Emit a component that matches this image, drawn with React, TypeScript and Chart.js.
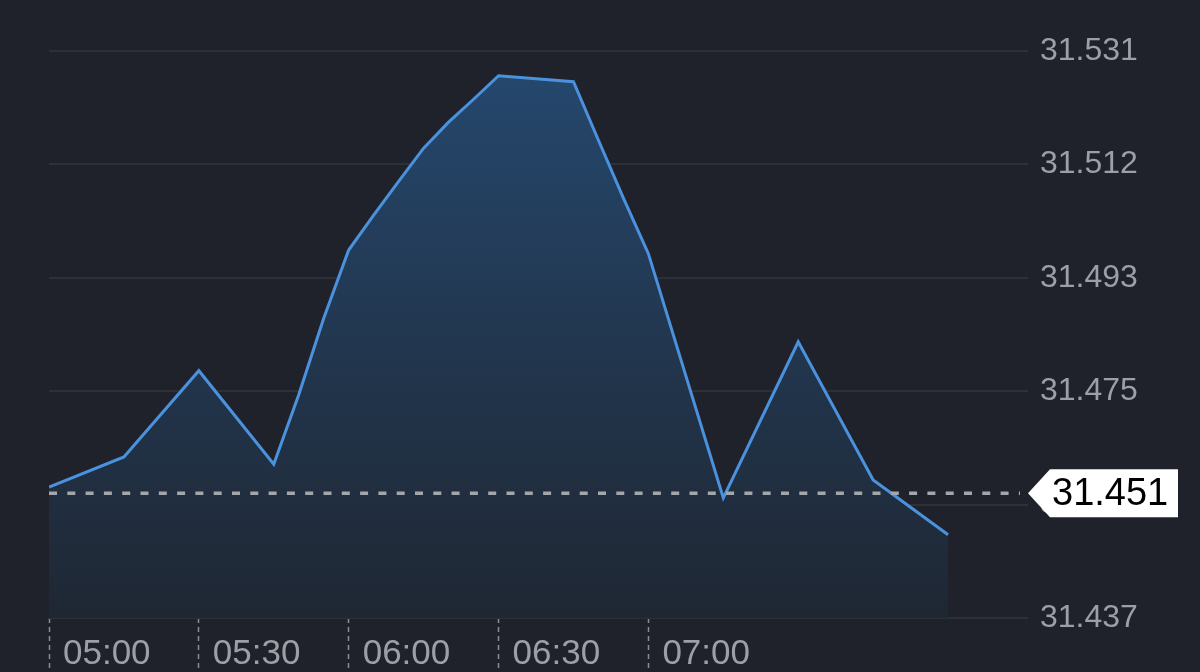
import React, { useEffect, useRef } from "react";
import { Chart, registerables } from "chart.js";

Chart.register(...registerables);

// minutes after 05:00
const X_MINUTES = [0, 15, 30, 45, 50, 55, 60, 65, 70, 75, 80, 85, 90, 105, 110, 115, 120, 135, 150, 165, 180];
const PRICES = [
  31.4587, 31.4637, 31.478, 31.4625, 31.474, 31.4867, 31.498, 31.5038, 31.5094, 31.5149, 31.5192,
  31.523, 31.5269, 31.5259, 31.5162, 31.5066, 31.4974, 31.4569, 31.4828, 31.4599, 31.4508,
];
const X_TICK_MINUTES = [0, 30, 60, 90, 120];
const X_TICK_LABELS = ["05:00", "05:30", "06:00", "06:30", "07:00"];
const Y_TICK_LABELS = ["31.437", "31.456", "31.475", "31.493", "31.512", "31.531"];
const Y_MIN = 31.437;
const Y_MAX = 31.531;
const X_MAX = 196;
const LAST_LABEL = "31.451";
const REF_LINE = 31.4577;

const BG = "#1f222a";
const TICK_COLOR = "#9c9fa6";
const FONT = "'Liberation Sans', Arial, sans-serif";

export default function App() {
  const ref = useRef<HTMLCanvasElement>(null);

  useEffect(() => {
    const canvas = ref.current;
    if (!canvas) return;

    const overlay = {
      id: "overlay",
      beforeDraw(chart: any) {
        const c = chart.ctx;
        c.save();
        c.fillStyle = BG;
        c.fillRect(0, 0, chart.width, chart.height);
        c.restore();
      },
      afterDraw(chart: any) {
        const c = chart.ctx;
        const ca = chart.chartArea;
        const y = chart.scales.y.getPixelForValue(REF_LINE);
        c.save();
        c.strokeStyle = "#a3a6ab";
        c.lineWidth = 3.5;
        c.setLineDash([8, 10.3]);
        c.beginPath();
        c.moveTo(ca.left, y);
        c.lineTo(ca.right - 8, y);
        c.stroke();
        c.setLineDash([]);
        // label
        const tip = ca.right;
        const bl = tip + 22;
        const br = 1178;
        const h = 48;
        c.fillStyle = "#ffffff";
        c.beginPath();
        c.moveTo(tip, y);
        c.lineTo(bl, y - h / 2);
        c.lineTo(br, y - h / 2);
        c.lineTo(br, y + h / 2);
        c.lineTo(bl, y + h / 2);
        c.closePath();
        c.fill();
        c.fillStyle = "#000000";
        c.font = `38px ${FONT}`;
        c.textAlign = "left";
        c.textBaseline = "middle";
        c.fillText(LAST_LABEL, bl + 2, y + 1);
        c.restore();
      },
    };

    const chart = new Chart(canvas, {
      type: "line",
      data: {
        datasets: [
          {
            data: X_MINUTES.map((m, i) => ({ x: m, y: PRICES[i] })),
            borderColor: "#4b92de",
            borderWidth: 3,
            pointRadius: 0,
            tension: 0,
            fill: "start",
            backgroundColor: (ctx: any) => {
              const ca = ctx.chart.chartArea;
              if (!ca) return "rgba(40,80,120,0.5)";
              const g = ctx.chart.ctx.createLinearGradient(0, ca.top, 0, ca.bottom);
              g.addColorStop(0, "#25496f");
              g.addColorStop(0.5, "#223750");
              g.addColorStop(1, "#1f2733");
              return g;
            },
          },
        ],
      },
      options: {
        responsive: false,
        animation: false,
        layout: { padding: { top: 51, left: 49, right: 0, bottom: 0 } },
        plugins: { legend: { display: false }, tooltip: { enabled: false } },
        scales: {
          x: {
            type: "linear",
            min: 0,
            max: X_MAX,
            afterBuildTicks: (scale: any) => {
              scale.ticks = X_TICK_MINUTES.map((v) => ({ value: v }));
            },
            afterFit: (scale: any) => {
              scale.height = 54;
            },
            border: { display: false },
            grid: {
              drawOnChartArea: false,
              drawTicks: true,
              tickLength: 54,
              tickColor: "#8a8d94",
              tickWidth: 1.5,
              tickBorderDash: [5, 4],
            },
            ticks: {
              align: "start",
              labelOffset: 14,
              padding: -39,
              maxRotation: 0,
              autoSkip: false,
              color: TICK_COLOR,
              font: { size: 35, family: FONT },
              callback: (_v: any, i: number) => X_TICK_LABELS[i],
            },
          },
          y: {
            position: "right",
            min: Y_MIN,
            max: Y_MAX,
            afterBuildTicks: (scale: any) => {
              scale.ticks = Y_TICK_LABELS.map((_, i) => ({
                value: Y_MIN + (i * (Y_MAX - Y_MIN)) / (Y_TICK_LABELS.length - 1),
              }));
            },
            afterFit: (scale: any) => {
              scale.width = 172;
            },
            border: { display: false },
            grid: { color: "#2c3039", lineWidth: 2, drawTicks: false },
            ticks: {
              padding: 12,
              color: TICK_COLOR,
              font: { size: 32, family: FONT },
              callback: (_v: any, i: number) => Y_TICK_LABELS[i],
            },
          },
        },
      },
      plugins: [overlay],
    } as any);

    return () => chart.destroy();
  }, []);

  return (
    <div style={{ position: "fixed", left: 0, top: 0, width: 1200, height: 672, background: BG }}>
      <canvas ref={ref} width={1200} height={672} style={{ display: "block" }} />
    </div>
  );
}
